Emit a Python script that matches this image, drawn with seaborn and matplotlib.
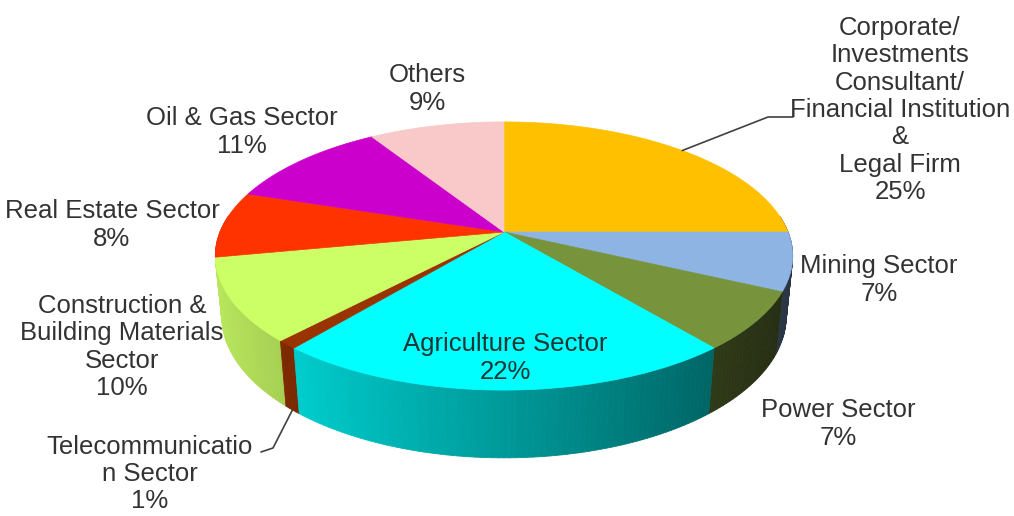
import numpy as np
import matplotlib
matplotlib.use("Agg")
import matplotlib.pyplot as plt
import seaborn as sns
from matplotlib.patches import Polygon
from matplotlib.collections import PolyCollection
from matplotlib.colors import to_rgb

# Sector breakdown (percent), clockwise from 12 o'clock
sectors = [
    "Corporate/\nInvestments\nConsultant/\nFinancial Institution\n&\nLegal Firm",
    "Mining Sector",
    "Power Sector",
    "Agriculture Sector",
    "Telecommunicatio\nn Sector",
    "Construction &\nBuilding Materials\nSector",
    "Real Estate Sector",
    "Oil & Gas Sector",
    "Others",
]
shares = [25, 7, 7, 22, 1, 10, 8, 11, 9]
colors = ["#FFC000", "#8DB4E2", "#77933C", "#00FFFF", "#993300",
          "#CCFF66", "#FF3300", "#CC00CC", "#F9C8C8"]

# Label anchor points (figure pixels) and leader-line bends
label_xy = [(900, 110), (879, 280), (838, 424), (505, 358), (150, 474),
            (122, 347), (112, 225), (242, 132), (427, 89)]
leaders = {0: [(768, 117), (793, 117)], 4: [(273, 448), (261, 452)]}

sns.set_theme(style="white")
plt.rcParams["font.family"] = ["Liberation Sans", "DejaVu Sans"]

W, H = 1014, 516
fig = plt.figure(figsize=(W / 100, H / 100), dpi=100)
ax = fig.add_axes([0, 0, 1, 1])
ax.set_xlim(0, W)
ax.set_ylim(H, 0)
ax.axis("off")

# Perspective view of a short cylinder
CX, CY = 504, 232          # screen position of the pie centre
F = 284                    # horizontal radius at mid depth
SIN_A, COS_A = 0.457, 0.8895
DIST = 4.97
THICK = 0.24


def project(theta, height=0.0, r=1.0):
    x3 = r * np.cos(theta)
    z3 = r * np.sin(theta)
    w = 1 + (z3 * COS_A - height * SIN_A) / DIST
    sx = F * x3 / w
    sy = F * (height * COS_A + z3 * SIN_A) / w
    return CX + sx, CY - sy


edges = np.deg2rad(90 - 360 * np.concatenate([[0], np.cumsum(shares)]) / 100)

# Side walls, painted back to front with a left-to-right light falloff
quads, quad_cols, depth = [], [], []
for i, col in enumerate(colors):
    a0, a1 = edges[i], edges[i + 1]
    n = max(3, int(np.ceil(np.rad2deg(a0 - a1))))
    th = np.linspace(a0, a1, n + 1)
    base = np.array(to_rgb(col))
    for t0, t1 in zip(th[:-1], th[1:]):
        tm = 0.5 * (t0 + t1)
        if np.sin(tm) > 0.12:
            continue
        p = [project(t0), project(t1), project(t1, -THICK), project(t0, -THICK)]
        shade = np.clip(0.6 - 0.32 * np.cos(tm), 0.2, 0.95)
        quads.append(p)
        quad_cols.append(tuple(base * shade))
        depth.append(np.sin(tm))
order = np.argsort(depth)[::-1]
walls = PolyCollection([quads[k] for k in order],
                       facecolors=[quad_cols[k] for k in order],
                       edgecolors=[quad_cols[k] for k in order],
                       linewidths=0.6, zorder=1)
ax.add_collection(walls)

# Top faces
for i, col in enumerate(colors):
    a0, a1 = edges[i], edges[i + 1]
    n = max(4, int(np.ceil(np.rad2deg(a0 - a1))) * 2)
    th = np.linspace(a0, a1, n + 1)
    pts = [(CX, CY)] + [project(t) for t in th]
    ax.add_patch(Polygon(pts, closed=True, facecolor=col, edgecolor=col,
                         linewidth=0.5, zorder=2))

# Labels
for i, (name, val) in enumerate(zip(sectors, shares)):
    tx, ty = label_xy[i]
    ax.text(tx, ty, f"{name}\n{val}%", ha="center", va="center",
            multialignment="center", fontsize=18.5, linespacing=1.18,
            color="#1e3535" if i == 3 else "#333333", zorder=4)

# Leader lines
for i, bends in leaders.items():
    tm = 0.5 * (edges[i] + edges[i + 1])
    start = project(tm) if np.sin(tm) > 0 else project(tm, -THICK)
    xs, ys = zip(*([start] + bends))
    ax.plot(xs, ys, color="#404040", lw=1.2, zorder=3)

fig.savefig("out.png", dpi=100)
